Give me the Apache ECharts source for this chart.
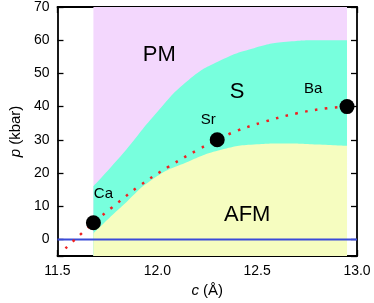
<!DOCTYPE html>
<html>
<head>
<meta charset="utf-8">
<script src="https://cdn.jsdelivr.net/npm/echarts@6/dist/echarts.min.js"></script>
<style>
html,body{margin:0;padding:0;background:#fff;}
#chart{width:374px;height:303px;}
</style>
</head>
<body>
<div id="chart"></div>
<script>
// ---- data ----
var xTicks = [11.5, 12.0, 12.5, 13.0];
var yTicks = [0, 10, 20, 30, 40, 50, 60, 70];
var pmTop = [[11.68, 70], [12.95, 70]];
var sTop = [[11.68, 16], [11.83, 26], [11.994, 38], [12.157, 48], [12.32, 54], [12.484, 57.6], [12.647, 59.5], [12.81, 60], [12.95, 60]];
var afmTop = [[11.68, 1.8], [11.82, 9.8], [11.985, 18.5], [12.157, 23.5], [12.32, 27], [12.484, 28.6], [12.647, 28.9], [12.8, 28.6], [12.95, 28.2]];
var zeroLine = [[11.5, 0], [13.0, 0]];
var redCurve = [[11.54, -2.7], [11.68, 5], [11.773, 9.6], [11.912, 16.2], [12.059, 22], [12.206, 27.1], [12.3, 30], [12.394, 32.6], [12.54, 35.5], [12.70, 38], [12.85, 39.5], [12.95, 40]];
var compounds = ['Ca', 'Sr', 'Ba'];
var compoundC = [11.68, 12.3, 12.95];
var compoundP = [5, 30, 40];
var compoundLabelPos = [[11.73, 13.6], [12.255, 36], [12.78, 45.2]];
var phaseNames = ['PM', 'S', 'AFM'];
var phaseLabelPos = [[12.01, 55.5], [12.40, 44.5], [12.45, 7.3]];

var FONT = 'Liberation Sans, Arial, sans-serif';
var chart = echarts.init(document.getElementById('chart'));

function xAx(pos, show) {
  return {
    type: 'value', position: pos, min: 11.5, max: 13.0, interval: 0.5,
    axisLine: {show: true, onZero: false, lineStyle: {color: '#000', width: 1.8}},
    axisTick: {show: true, inside: true, length: 6, lineStyle: {color: '#000', width: 1.3}},
    axisLabel: {show: show, color: '#000', fontSize: 14, fontFamily: FONT, margin: 8,
      formatter: function (v) { return v.toFixed(1); }},
    splitLine: {show: false}
  };
}
function yAx(pos, show) {
  return {
    type: 'value', position: pos, min: -5, max: 70, splitNumber: 8, minInterval: 10, maxInterval: 10,
    axisLine: {show: true, onZero: false, lineStyle: {color: '#000', width: 1.8}},
    axisTick: {show: true, inside: true, length: 6, lineStyle: {color: '#000', width: 1.3}},
    axisLabel: {show: show, color: '#000', fontSize: 14, fontFamily: FONT, margin: 8,
      formatter: function (v) { return yTicks.indexOf(v) >= 0 ? String(v) : ''; }},
    splitLine: {show: false}
  };
}
var xa0 = xAx('bottom', true);
xa0.name = '{i|c} (Å)';
xa0.nameLocation = 'middle';
xa0.nameGap = 26;
xa0.nameTextStyle = {color: '#000', fontSize: 15, fontFamily: FONT, rich: {i: {fontStyle: 'italic', fontSize: 15, fontFamily: FONT, color: '#000'}}};
var ya0 = yAx('left', true);
ya0.name = '{i|p} (kbar)';
ya0.nameLocation = 'middle';
ya0.nameGap = 33;
ya0.nameTextStyle = {color: '#000', fontSize: 15, fontFamily: FONT, rich: {i: {fontStyle: 'italic', fontSize: 15, fontFamily: FONT, color: '#000'}}};

var labelStyle = function (size) {
  return {show: true, position: 'inside', formatter: '{b}', color: '#000', opacity: 1,
    fontSize: size, fontFamily: FONT, textBorderWidth: 0};
};

var option = {
  animation: false,
  grid: {left: 51, right: 17, top: 7, bottom: 47, containLabel: false},
  xAxis: [xa0, xAx('top', false)],
  yAxis: [ya0, yAx('right', false)],
  series: [
    {type: 'line', data: pmTop, symbol: 'none', lineStyle: {width: 0}, areaStyle: {color: '#F3D7FD', opacity: 1, origin: 'start'}, z: 1},
    {type: 'line', data: sTop, smooth: 0.5, symbol: 'none', lineStyle: {width: 0}, areaStyle: {color: '#78FFDD', opacity: 1, origin: 'start'}, z: 2},
    {type: 'line', data: afmTop, smooth: 0.5, symbol: 'none', lineStyle: {width: 0}, areaStyle: {color: '#F6FDC0', opacity: 1, origin: 'start'}, z: 3},
    {type: 'line', data: zeroLine, symbol: 'none', lineStyle: {color: '#3A4BD8', width: 2}, z: 4},
    {type: 'line', data: redCurve, smooth: 0.4, symbol: 'none', lineStyle: {color: '#EE2222', width: 2.5, type: [2.5, 7.5]}, z: 5},
    {type: 'scatter', data: compoundC.map(function (c, i) { return [c, compoundP[i]]; }), symbol: 'circle', symbolSize: 15, itemStyle: {color: '#000', opacity: 1}, z: 6},
    {type: 'scatter', data: compoundLabelPos.map(function (p, i) { return {value: p, name: compounds[i]}; }), symbolSize: 0,
      itemStyle: {opacity: 1}, label: labelStyle(15), z: 7},
    {type: 'scatter', data: phaseLabelPos.map(function (p, i) { return {value: p, name: phaseNames[i]}; }), symbolSize: 0,
      itemStyle: {opacity: 1}, label: labelStyle(22), z: 7}
  ]
};
chart.setOption(option);
</script>
</body>
</html>
